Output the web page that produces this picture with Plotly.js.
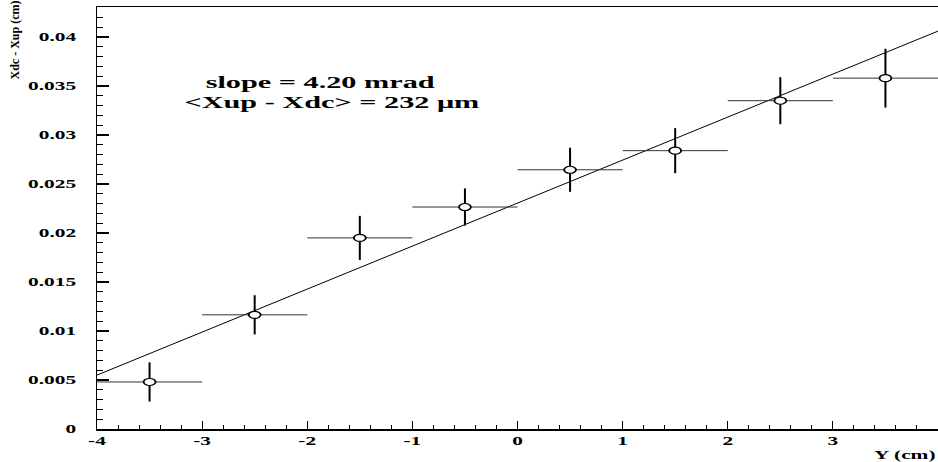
<!DOCTYPE html>
<html>
<head>
<meta charset="utf-8">
<script src="https://cdn.plot.ly/plotly-3.0.1.min.js"></script>
<style>html,body{margin:0;padding:0;background:#fff;}</style>
</head>
<body>
<div id="chart" style="width:938px;height:462px;"></div>
<script>
// Data
const yPos      = [-3.5, -2.5, -1.5, -0.5, 0.5, 1.5, 2.5, 3.5];
const diffVals  = [0.0048, 0.01165, 0.0195, 0.02265, 0.02645, 0.0284, 0.0335, 0.0358];
const diffErr   = [0.002, 0.002, 0.00225, 0.0019, 0.00225, 0.0023, 0.0024, 0.003];
const yPosErr   = [0.5, 0.5, 0.5, 0.5, 0.5, 0.5, 0.5, 0.5];
const fitX      = [-4, 4];
const fitY      = [0.0055, 0.0406];
const xTickVals = [-4, -3, -2, -1, 0, 1, 2, 3, 4];
const xTickText = ['-4', '-3', '-2', '-1', '0', '1', '2', '3', '4'];
const statLines = ['slope = 4.20 mrad', '&lt;Xup - Xdc&gt; = 232 μm'];

const serif = 'Liberation Serif';
const STRETCH = 1.78;   // the reference text is horizontally stretched

const traces = [
  {
    x: fitX, y: fitY, type: 'scatter', mode: 'lines',
    line: {color: '#000', width: 1}, hoverinfo: 'skip', showlegend: false
  },
  {
    x: yPos, y: diffVals, type: 'scatter', mode: 'markers',
    marker: {symbol: 'circle', size: 7, color: '#fff', line: {color: '#000', width: 1.1}},
    error_y: {type: 'data', array: diffErr, visible: true, color: '#000', thickness: 2, width: 0},
    error_x: {type: 'data', array: yPosErr, visible: true, color: '#333', thickness: 1, width: 0},
    showlegend: false
  }
];

const layout = {
  width: 938, height: 462,
  margin: {l: 97, r: 0, t: 7, b: 33, pad: 0},
  paper_bgcolor: '#fff', plot_bgcolor: '#fff',
  font: {family: serif, color: '#000', size: 12, weight: 'bold'},
  xaxis: {
    range: [-4, 4], showgrid: false, zeroline: false,
    showline: true, linecolor: '#000', linewidth: 1.5, mirror: true,
    ticks: 'inside', ticklen: 8, tickwidth: 1.2, tickcolor: '#000',
    tickmode: 'array', tickvals: xTickVals, ticktext: xTickText,
    minor: {dtick: 0.2, tick0: 0, ticks: 'inside', ticklen: 4, tickwidth: 1, tickcolor: '#000', showgrid: false},
    tickfont: {family: serif, size: 12, weight: 'bold'},
    ticklabelstandoff: 0
  },
  yaxis: {
    range: [0, 0.04306], showgrid: false, zeroline: false,
    showline: true, linecolor: '#000', linewidth: 1.5, mirror: false,
    ticks: 'inside', ticklen: 12, tickwidth: 1.2, tickcolor: '#000',
    dtick: 0.005, tick0: 0,
    minor: {dtick: 0.001, ticks: 'inside', ticklen: 6, tickwidth: 1, tickcolor: '#000', showgrid: false},
    tickfont: {family: serif, size: 12, weight: 'bold'},
    ticklabelstandoff: 17
  },
  annotations: [
    {text: statLines[0], x: -1.878, y: 0.0354, xref: 'x', yref: 'y', showarrow: false,
     xanchor: 'center', yanchor: 'middle', font: {family: serif, size: 17, weight: 'bold'}},
    {text: statLines[1], x: -1.764, y: 0.03327, xref: 'x', yref: 'y', showarrow: false,
     xanchor: 'center', yanchor: 'middle', font: {family: serif, size: 17, weight: 'bold'}},
    {text: 'Y (cm)', x: 1, y: 0, xref: 'paper', yref: 'paper', showarrow: false,
     xanchor: 'right', yanchor: 'top', yshift: -17, font: {family: serif, size: 12, weight: 'bold'}},
    {text: 'Xdc - Xup (cm)', x: 0, y: 1, xref: 'paper', yref: 'paper', showarrow: false,
     textangle: -90, xanchor: 'center', yanchor: 'top', xshift: -83, yshift: 8,
     font: {family: serif, size: 12, weight: 'bold'}}
  ]
};

function stretch(el, s, anchor) {
  const bb = el.getBBox();
  const ax = anchor === 'right' ? bb.x + bb.width : (anchor === 'left' ? bb.x : bb.x + bb.width / 2);
  const t = el.getAttribute('transform') || '';
  el.setAttribute('transform', t + ' translate(' + ax + ',0) scale(' + s + ',1) translate(' + (-ax) + ',0)');
}

Plotly.newPlot('chart', traces, layout, {displayModeBar: false, staticPlot: true}).then(gd => {
  gd.querySelectorAll('.xtick text').forEach(el => stretch(el, STRETCH, 'center'));
  gd.querySelectorAll('.ytick text').forEach(el => stretch(el, STRETCH, 'right'));
  const anns = gd.querySelectorAll('.annotation');
  anns.forEach((g, i) => {
    const txt = g.querySelector('text.annotation-text');
    if (!txt) return;
    if (i < 2) stretch(txt, STRETCH, 'center');
    else if (i === 2) stretch(txt, STRETCH, 'right');
  });
  // markers in the reference are horizontally stretched ellipses
  gd.querySelectorAll('.scatterlayer .trace .points path.point').forEach(p => {
    const t = p.getAttribute('transform') || '';
    p.setAttribute('transform', t + ' scale(1.7,1)');
  });
});
</script>
</body>
</html>
